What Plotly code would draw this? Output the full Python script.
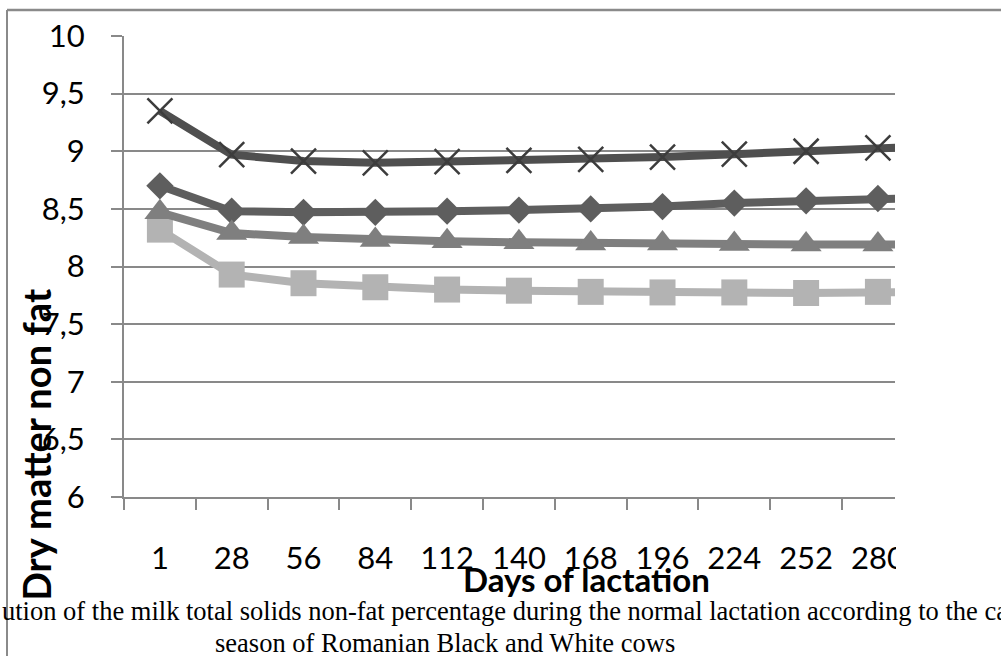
import plotly.graph_objects as go

# ---------------- data ----------------
days = ["1", "28", "56", "84", "112", "140", "168", "196", "224", "252", "280", "308"]
series_diamond = [8.70, 8.48, 8.47, 8.47, 8.48, 8.49, 8.50, 8.52, 8.55, 8.57, 8.59, 8.60]
series_square = [8.32, 7.93, 7.855, 7.82, 7.80, 7.79, 7.78, 7.775, 7.775, 7.77, 7.78, 7.78]
series_triangle = [8.47, 8.29, 8.256, 8.23, 8.22, 8.21, 8.20, 8.20, 8.195, 8.19, 8.19, 8.19]
series_x = [9.35, 8.97, 8.915, 8.90, 8.91, 8.92, 8.93, 8.95, 8.975, 9.0, 9.03, 9.05]
y_tick_vals = [6, 6.5, 7, 7.5, 8, 8.5, 9, 9.5, 10]
y_tick_text = ["6", "6,5", "7", "7,5", "8", "8,5", "9", "9,5", "10"]
x_title = "Days of lactation"
y_title = "Dry matter non fat"
caption_1 = "ution of the milk total solids non-fat percentage during the normal lactation according to the ca"
caption_2 = "season of Romanian Black and White cows"

# ---------------- geometry ----------------
W, H = 1001, 656
L, R, T, B = 124, 895, 36, 497


def px(x):
    return (x - L) / (R - L)


def py(y):
    return (B - y) / (B - T)


GRID = "#898989"
fig = go.Figure()

styles = [
    (series_diamond, "#5e5e5e", dict(symbol="diamond", size=21, color="#5e5e5e")),
    (series_square, "#b3b3b3", dict(symbol="square", size=26, color="#b3b3b3")),
    (series_triangle, "#7f7f7f", dict(symbol="triangle-up", size=27, color="#7f7f7f")),
    (series_x, "#4f4f4f", dict(symbol="x-thin", size=25, color="#3c3c3c",
                               line=dict(width=2.5, color="#3c3c3c"))),
]
for i, (vals, col, mk) in enumerate(styles):
    fig.add_trace(go.Scatter(
        x=days, y=vals, mode="lines+markers", name=f"Series {i+1}",
        line=dict(color=col, width=8), marker=mk, showlegend=False,
    ))

fig.update_layout(
    width=W, height=H, autosize=False,
    margin=dict(l=L, r=W - R, t=T, b=H - B, pad=0),
    plot_bgcolor="white", paper_bgcolor="white",
    font=dict(family="Lato", size=31, color="black"),
)
fig.update_xaxes(
    type="category", range=[-0.5, 10.238], showgrid=False,
    showline=True, linecolor=GRID, linewidth=2,
    ticks="outside", ticklen=11, tickwidth=2, tickcolor=GRID,
    tickson="boundaries", ticklabelstandoff=33,
    tickfont=dict(family="Lato", size=31, color="black"),
)
fig.update_yaxes(
    range=[6, 10], tickvals=y_tick_vals, ticktext=y_tick_text,
    showgrid=True, gridcolor=GRID, gridwidth=2,
    showline=True, linecolor=GRID, linewidth=2, zeroline=False,
    ticks="outside", ticklen=11, tickwidth=2, tickcolor=GRID,
    ticklabelstandoff=20,
    tickfont=dict(family="Lato", size=31, color="black"),
)

# white box covering the clipped right side
fig.add_shape(type="rect", xref="paper", yref="paper",
              x0=px(896), x1=px(1003), y0=py(597), y1=py(13),
              fillcolor="white", line=dict(width=0), layer="above")
# frame border (left and top)
fig.add_shape(type="line", xref="paper", yref="paper",
              x0=px(7), x1=px(7), y0=py(10), y1=py(660),
              line=dict(color="#8a8a8a", width=2), layer="above")
fig.add_shape(type="line", xref="paper", yref="paper",
              x0=px(7), x1=px(1003), y0=py(10), y1=py(10),
              line=dict(color="#8a8a8a", width=2.5), layer="above")

anns = [
    dict(text=f"<b>{x_title}</b>", x=px(586), y=py(557), xanchor="center", yanchor="top",
         font=dict(family="Lato", size=33, color="black")),
    dict(text=f"<b>{y_title}</b>", x=px(36), y=py(445), xanchor="center", yanchor="middle",
         textangle=-90, font=dict(family="Lato", size=38, color="black")),
    # white strip under the caption (clips the titles)
    dict(text=" ", x=px(9), y=py(597), xanchor="left", yanchor="top",
         width=1000, height=70, bgcolor="white", borderpad=0),
    dict(text=caption_1, x=px(0), y=py(611), xanchor="left", yanchor="middle",
         font=dict(family="Liberation Serif", size=26.5, color="black")),
    dict(text=caption_2, x=px(445), y=py(643), xanchor="center", yanchor="middle",
         font=dict(family="Liberation Serif", size=26.5, color="black")),
]
for a in anns:
    fig.add_annotation(xref="paper", yref="paper", showarrow=False, **a)

fig.write_html("out.html", config={"displayModeBar": False},
               post_script="document.body.style.margin='0px';")
